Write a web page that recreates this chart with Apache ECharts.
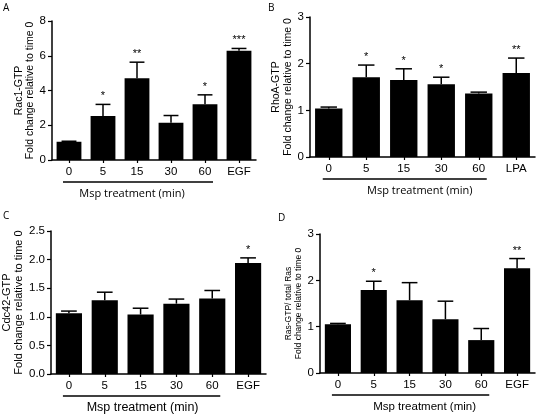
<!DOCTYPE html>
<html><head><meta charset="utf-8">
<script src="https://cdn.jsdelivr.net/npm/echarts@6/dist/echarts.min.js"></script>
<style>html,body{margin:0;padding:0;background:#fff}#c{width:537px;height:415px}</style>
</head><body><div id="c"></div>
<script>
// ---- data ----
const catsA = ['0','5','15','30','60','EGF'];
const valsA = [1.05, 2.53, 4.71, 2.15, 3.21, 6.29];
const capsA = [1.08, 3.2, 5.63, 2.56, 3.75, 6.42];
const starsA = ['', '*', '**', '', '*', '***'];

const catsB = ['0','5','15','30','60','LPA'];
const valsB = [1.04, 1.71, 1.65, 1.56, 1.36, 1.8];
const capsB = [1.07, 1.97, 1.89, 1.71, 1.39, 2.12];
const starsB = ['', '*', '*', '*', '', '**'];

const catsC = ['0','5','15','30','60','EGF'];
const valsC = [1.06, 1.29, 1.04, 1.23, 1.32, 1.94];
const capsC = [1.1, 1.43, 1.15, 1.31, 1.46, 2.03];
const starsC = ['', '', '', '', '', '*'];

const catsD = ['0','5','15','30','60','EGF'];
const valsD = [1.05, 1.79, 1.57, 1.16, 0.71, 2.26];
const capsD = [1.07, 1.98, 1.95, 1.55, 0.96, 2.47];
const starsD = ['', '*', '', '', '', '**'];

const mspRange = [0, 4];
const mspText = 'Msp treatment (min)';

// ---- chart ----
const chart = echarts.init(document.getElementById('c'), null, {renderer:'canvas'});
const AR = 'Liberation Sans';
const OS = 'Open Sans';

const panels = [
  {cats:catsA, vals:valsA, caps:capsA, stars:starsA, grid:{left:52, top:21, width:204, height:139},
   max:8, interval:2, name:'Rac1-GTP\nFold change relative to time 0', nameSize:10.5, nameLH:11, nameGap:16, fmt:null,
   textDx:-6, textFont:"11px 'Open Sans'"},
  {cats:catsB, vals:valsB, caps:capsB, stars:starsB, grid:{left:310, top:17, width:225, height:140},
   max:3, interval:1, name:'RhoA-GTP\nFold change relative to time 0', nameSize:10.5, nameLH:12, nameGap:14, fmt:null,
   textDx:15, textFont:"11px 'Open Sans'"},
  {cats:catsC, vals:valsC, caps:capsC, stars:starsC, grid:{left:50, top:231, width:216, height:143},
   max:2.5, interval:0.5, name:'Cdc42-GTP\nFold change relative to time 0', nameSize:11, nameLH:12, nameGap:26, fmt:v=>v.toFixed(1),
   textDx:1, textFont:"12.5px 'Liberation Sans'"},
  {cats:catsD, vals:valsD, caps:capsD, stars:starsD, grid:{left:320, top:234, width:215, height:139},
   max:3, interval:1, name:'Ras-GTP/ total Ras\nFold change relative to time 0', nameSize:8.5, nameLH:10, nameGap:13, fmt:null,
   textDx:14, textFont:"11.5px 'Liberation Sans'"}
];

const grid = [], xAxis = [], yAxis = [], series = [];
panels.forEach((p, i) => {
  grid.push(p.grid);
  xAxis.push({type:'category', gridIndex:i, data:p.cats,
    axisLine:{show:true, lineStyle:{color:'#000', width:1.5}},
    axisTick:{show:true, alignWithLabel:true, length:3, lineStyle:{color:'#000', width:1.2}},
    axisLabel:{color:'#000', fontFamily:AR, fontSize:11.5, margin:6}});
  yAxis.push({type:'value', gridIndex:i, min:0, max:p.max, interval:p.interval,
    name:p.name, nameLocation:'middle', nameGap:p.nameGap, nameRotate:90,
    nameTextStyle:{color:'#000', fontFamily:AR, fontSize:p.nameSize, lineHeight:p.nameLH, align:'center'},
    axisLine:{show:true, lineStyle:{color:'#000', width:1.5}},
    axisTick:{show:true, length:4, inside:false, lineStyle:{color:'#000', width:1.2}},
    splitLine:{show:false},
    axisLabel:{color:'#000', fontFamily:AR, fontSize:11.5, margin:6, formatter:p.fmt || undefined}});
  series.push({type:'bar', xAxisIndex:i, yAxisIndex:i, data:p.vals, barCategoryGap:'27%',
    itemStyle:{color:'#000'}, silent:true, animation:false});
  series.push({type:'custom', xAxisIndex:i, yAxisIndex:i, clip:false, animation:false, silent:true,
    data:p.vals.map((v,k)=>[k, v, p.caps[k], p.stars[k]]),
    encode:{x:0, y:[1,2]},
    renderItem:function(params, api){
      const k = api.value(0);
      const a = api.coord([k, api.value(1)]);
      const b = api.coord([k, api.value(2)]);
      const bw = api.size([1,0])[0] * 0.73;
      const cw = bw * 0.6;
      const star = p.stars[k];
      const children = [
        {type:'line', shape:{x1:a[0], y1:a[1], x2:b[0], y2:b[1]}, style:{stroke:'#000', lineWidth:1.5}},
        {type:'line', shape:{x1:b[0]-cw/2, y1:b[1], x2:b[0]+cw/2, y2:b[1]}, style:{stroke:'#000', lineWidth:1.5}}
      ];
      if (star) children.push({type:'text', x:b[0], y:b[1]-8,
        style:{text:star, fill:'#000', font:"11px 'Liberation Sans'", align:'center', verticalAlign:'middle'}});
      return {type:'group', children};
    }});
  series.push({type:'custom', xAxisIndex:i, yAxisIndex:i, clip:false, animation:false, silent:true,
    data:[[mspRange[0], mspRange[1], 0]],
    encode:{x:[0,1], y:2},
    renderItem:function(params, api){
      const a = api.coord([api.value(0), 0]);
      const b = api.coord([api.value(1), 0]);
      const y = a[1] + 22;
      const x1 = a[0] - 6, x2 = b[0] + 8;
      return {type:'group', children:[
        {type:'line', shape:{x1, y1:y, x2, y2:y}, style:{stroke:'#000', lineWidth:1.6}},
        {type:'text', x:(x1+x2)/2 + p.textDx, y:y + 12,
          style:{text:mspText, fill:'#000', font:p.textFont, align:'center', verticalAlign:'middle'}}
      ]};
    }});
});

chart.setOption({
  animation:false,
  backgroundColor:'#fff',
  grid, xAxis, yAxis, series,
  graphic:[
    {type:'text', left:3, top:3, style:{text:'A', fill:'#000', font:"10px 'Open Sans'"}},
    {type:'text', left:268, top:3, style:{text:'B', fill:'#000', font:"10px 'Open Sans'"}},
    {type:'text', left:3, top:211, style:{text:'C', fill:'#000', font:"10px 'Open Sans'"}},
    {type:'text', left:278, top:213, style:{text:'D', fill:'#000', font:"10px 'Open Sans'"}}
  ]
});
</script></body></html>
